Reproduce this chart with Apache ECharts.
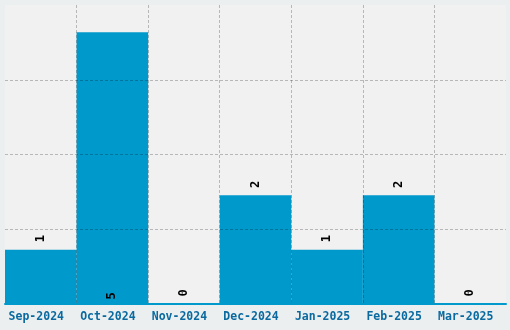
<!DOCTYPE html>
<html>
<head>
<meta charset="utf-8">
<script src="https://cdn.jsdelivr.net/npm/echarts@6/dist/echarts.min.js"></script>
<style>
html,body{margin:0;padding:0;background:#ebeff0;}
#c{width:510px;height:330px;}
</style>
</head>
<body>
<div id="c"></div>
<script>
var categories = ['Sep-2024','Oct-2024','Nov-2024','Dec-2024','Jan-2025','Feb-2025','Mar-2025'];
var values = [1, 5, 0, 2, 1, 2, 0];
var yMax = 5.5;
var insideBottomIndex = 1;

var chart = echarts.init(document.getElementById('c'), null, {renderer:'canvas'});
var data = values.map(function(v, i){
  var d = {value: v};
  if (i === insideBottomIndex) {
    d.label = {position: 'insideBottom', distance: 8};
  }
  return d;
});
chart.setOption({
  backgroundColor: '#ebeff0',
  animation: false,
  grid: {left: 5, right: 4, top: 5, bottom: 26, show: true, backgroundColor: '#f1f1f1', borderWidth: 0},
  xAxis: {
    type: 'category',
    data: categories,
    z: 10,
    axisLine: {show: true, lineStyle: {color: '#0099cc', width: 2}},
    axisTick: {show: false},
    axisLabel: {color: '#0a6aa0', fontFamily: 'DejaVu Sans Mono', fontWeight: 'bold', fontSize: 11.5, margin: 7, interval: 0, padding: [0, 9, 0, 0]},
    splitLine: {show: true, interval: 0, showMinLine: false, showMaxLine: false, lineStyle: {color: 'rgba(0,0,0,0.24)', type: [3, 2], width: 1}}
  },
  yAxis: {
    type: 'value',
    min: 0,
    max: yMax,
    interval: yMax / 4,
    z: 10,
    axisLine: {show: false},
    axisTick: {show: false},
    axisLabel: {show: false},
    splitLine: {show: true, showMinLine: false, showMaxLine: false, lineStyle: {color: 'rgba(0,0,0,0.24)', type: [3, 2], width: 1}}
  },
  series: [{
    type: 'bar',
    data: data,
    barCategoryGap: '0%',
    itemStyle: {color: '#0099cc'},
    label: {
      show: true,
      position: 'top',
      distance: 11,
      rotate: 90,
      align: 'center',
      verticalAlign: 'middle',
      color: '#000',
      fontFamily: 'DejaVu Sans Mono',
      fontWeight: 'bold',
      fontSize: 12
    }
  }]
});
</script>
</body>
</html>
